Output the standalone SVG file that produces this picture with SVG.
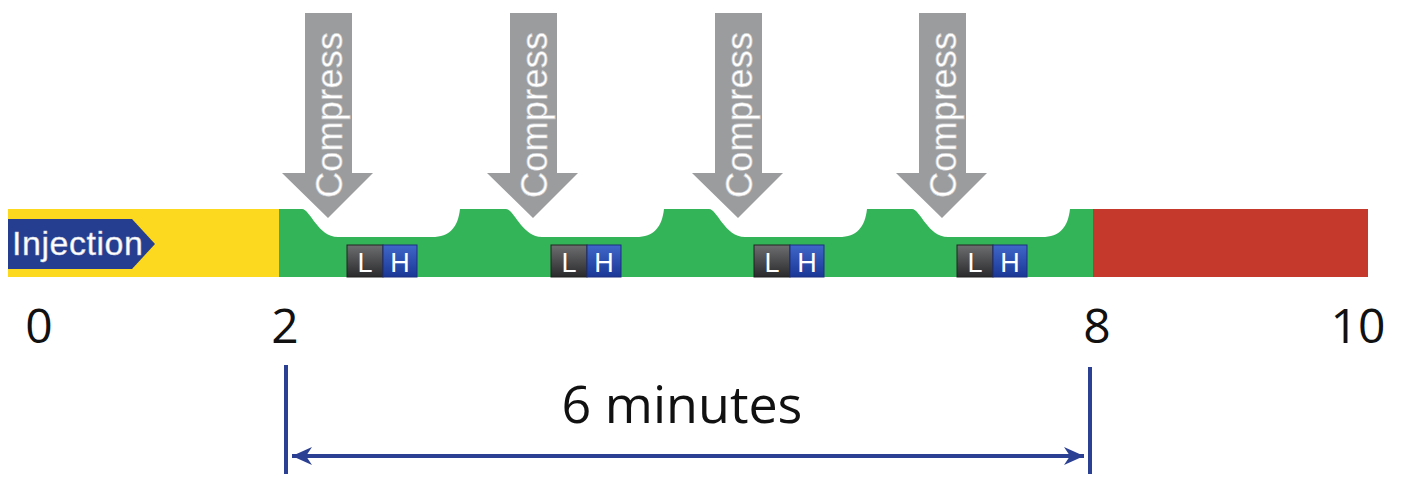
<svg xmlns="http://www.w3.org/2000/svg" width="1403" height="479" viewBox="0 0 1403 479">
<defs>
<style>
.num{font-family:"Open Sans","Liberation Sans",sans-serif;font-size:48px;fill:#111;text-anchor:middle}
.cmp{font-family:"Liberation Sans",Arial,sans-serif;font-size:36px;fill:#fff;stroke:#c9c9cb;stroke-width:0.6}
.arr{fill:#9b9c9e}
.lh{font-family:"Liberation Sans",Arial,sans-serif;font-size:27px;fill:#fff;text-anchor:middle}
.dim{stroke:#2b3f93;stroke-width:4;fill:none}
</style>
<linearGradient id="gL" x1="0" y1="0" x2="0" y2="1">
<stop offset="0" stop-color="#6d6e70"/><stop offset="1" stop-color="#2a2a2c"/>
</linearGradient>
<linearGradient id="gH" x1="0" y1="0" x2="0" y2="1">
<stop offset="0" stop-color="#3f67c9"/><stop offset="1" stop-color="#1a3795"/>
</linearGradient>
<g id="lhpair">
<rect x="347" y="245" width="36" height="32" fill="url(#gL)" stroke="#222" stroke-width="1"/>
<rect x="383" y="245" width="34" height="32" fill="url(#gH)" stroke="#1a2f80" stroke-width="1"/>
<text class="lh" x="365" y="272">L</text>
<text class="lh" x="400" y="272">H</text>
</g>
<g id="cmparrow">
<polygon class="arr" points="305,13 352,13 352,173 373,173 328,218 282,173 305,173"/>
<text class="cmp" transform="translate(342,198) rotate(-90)" textLength="166">Compress</text>
</g>
<marker id="ah" markerWidth="22" markerHeight="20" refX="20" refY="10" orient="auto" markerUnits="userSpaceOnUse">
<path d="M0,1 L20,10 L0,19 L6,10 Z" fill="#2b3f93"/>
</marker>
</defs>

<g id="bar">
<rect id="yellow" x="8" y="209" width="271" height="68" fill="#fcd81e"/>
<path id="green" fill="#34b458" d="M279,209 L302,209 C310,209 318,237 338,237 L432,237 C450,237 458,227 460,209 L506,209 C514,209 522,237 542,237 L636,237 C654,237 662,227 664,209 L709,209 C717,209 725,237 745,237 L839,237 C857,237 865,227 867,209 L912,209 C920,209 928,237 948,237 L1042,237 C1060,237 1068,227 1070,209 L1093,209 L1093,277 L279,277 Z"/>
<rect id="red" x="1093" y="209" width="275" height="68" fill="#c4392b"/>
</g>

<g id="injection">
<polygon points="8,219 132,219 155,244 132,269 8,269" fill="#253e90"/>
<text x="12" y="255" font-family="Liberation Sans, Arial, sans-serif" font-size="34" fill="#fff" stroke="#c9cbd8" stroke-width="0.5" textLength="131">Injection</text>
</g>

<g id="compress1"><use href="#cmparrow"/><use href="#lhpair"/></g>
<g id="compress2"><use href="#cmparrow" transform="translate(205,0)"/><use href="#lhpair" transform="translate(204,0)"/></g>
<g id="compress3"><use href="#cmparrow" transform="translate(410,0)"/><use href="#lhpair" transform="translate(407,0)"/></g>
<g id="compress4"><use href="#cmparrow" transform="translate(614,0)"/><use href="#lhpair" transform="translate(610,0)"/></g>

<g id="labels">
<text class="num" x="39" y="343">0</text>
<text class="num" x="285" y="343">2</text>
<text class="num" x="1097" y="343">8</text>
<text class="num" x="1358" y="343">10</text>
<text x="682" y="423" font-family="Open Sans, Liberation Sans, sans-serif" font-size="52" fill="#111" text-anchor="middle">6 minutes</text>
</g>

<g id="connectors">
<line class="dim" x1="286" y1="365" x2="286" y2="474"/>
<line class="dim" x1="1090" y1="367" x2="1090" y2="474"/>
<line class="dim" x1="1060" y1="456" x2="1084" y2="456" marker-end="url(#ah)"/>
<line class="dim" x1="316" y1="456" x2="292" y2="456" marker-end="url(#ah)"/>
<line class="dim" x1="300" y1="456" x2="1076" y2="456"/>
</g>
</svg>
